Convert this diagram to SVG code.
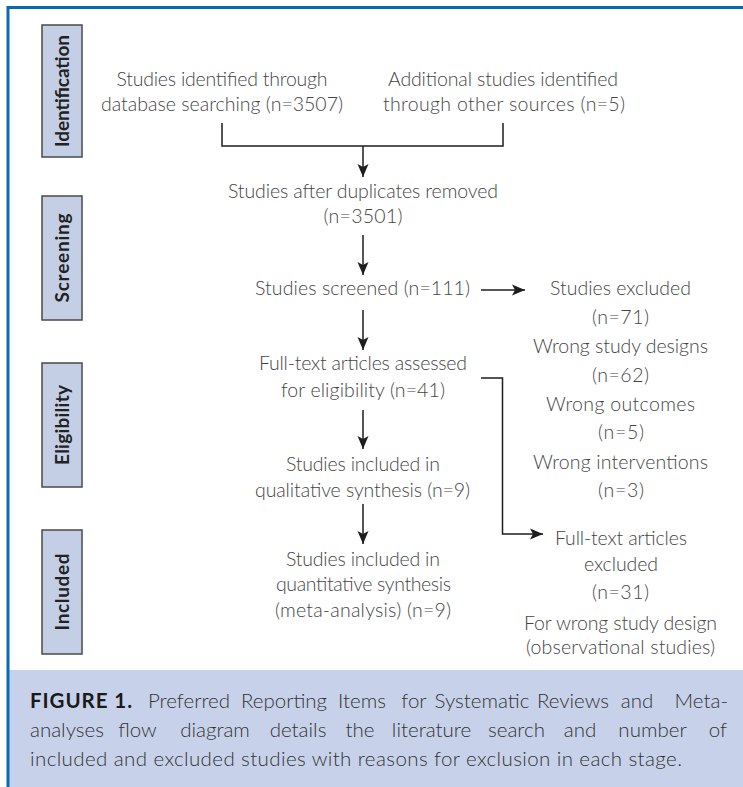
<svg xmlns="http://www.w3.org/2000/svg" width="743" height="787" viewBox="0 0 743 787">
<style>
.t{font-family:Lato,"Open Sans","Liberation Sans",sans-serif;font-size:19.5px;font-weight:300;fill:#454545;text-anchor:middle}
.ph{fill:#c4cfe6;stroke:#4a4a4a;stroke-width:1.5}
.pl{font-family:Lato,"Open Sans","Liberation Sans",sans-serif;font-size:19px;font-weight:bold;fill:#222;text-anchor:middle}
.c{fill:none;stroke:#1e1e1e;stroke-width:1.5}
.cap{font-family:Lato,"Open Sans","Liberation Sans",sans-serif;font-size:20.5px;font-weight:300;fill:#333}
.fig{font-family:Lato,"Open Sans","Liberation Sans",sans-serif;font-size:20.5px;font-weight:bold;fill:#1a1a1a}
.m{text-anchor:middle}
.e{text-anchor:end}
</style>
<defs>
<marker id="ah" markerUnits="userSpaceOnUse" markerWidth="14" markerHeight="12" viewBox="0 0 14 12" refX="13" refY="6" orient="auto">
<path d="M0,0.5 L13,6 L0,11.5 L3,6 z" fill="#1e1e1e"/>
</marker>
</defs>
<rect x="0" y="0" width="743" height="787" fill="#ffffff"/>
<rect x="9" y="670" width="734" height="117" fill="#c7d2ea"/>
<path d="M8,787 V7.5 H743" fill="none" stroke="#0b68b3" stroke-width="3"/>

<g id="phase-identification">
<rect class="ph" x="42" y="25" width="40" height="132"/>
<text class="pl" transform="translate(69,91) rotate(-90)" textLength="112">Identification</text>
</g>
<g id="phase-screening">
<rect class="ph" x="42" y="196" width="40" height="124"/>
<text class="pl" transform="translate(69,258) rotate(-90)" textLength="89">Screening</text>
</g>
<g id="phase-eligibility">
<rect class="ph" x="42" y="363" width="40" height="124"/>
<text class="pl" transform="translate(69,425) rotate(-90)" textLength="80">Eligibility</text>
</g>
<g id="phase-included">
<rect class="ph" x="42" y="530" width="40" height="124"/>
<text class="pl" transform="translate(69,592) rotate(-90)" textLength="77">Included</text>
</g>

<g id="db-search">
<text class="t" x="222" y="86" textLength="211">Studies identified through</text>
<text class="t" x="222" y="111" textLength="242">database searching (n=3507)</text>
</g>
<g id="other-sources">
<text class="t" x="503" y="86" textLength="230">Additional studies identified</text>
<text class="t" x="504" y="111" textLength="242">through other sources (n=5)</text>
</g>
<g id="duplicates-removed">
<text class="t" x="363" y="198" textLength="270">Studies after duplicates removed</text>
<text class="t" x="363" y="223" textLength="79">(n=3501)</text>
</g>
<g id="screened">
<text class="t" x="362.5" y="295" textLength="215">Studies screened (n=111)</text>
</g>
<g id="screen-excluded">
<text class="t" x="620.5" y="295" textLength="141">Studies excluded</text>
<text class="t" x="620.5" y="324" textLength="57">(n=71)</text>
<text class="t" x="620.5" y="353" textLength="175">Wrong study designs</text>
<text class="t" x="620.5" y="382" textLength="57">(n=62)</text>
<text class="t" x="620.5" y="411" textLength="149">Wrong outcomes</text>
<text class="t" x="621" y="439" textLength="46">(n=5)</text>
<text class="t" x="620.5" y="469" textLength="175">Wrong interventions</text>
<text class="t" x="621" y="497" textLength="46">(n=3)</text>
</g>
<g id="fulltext-assessed">
<text class="t" x="363" y="370" textLength="208">Full-text articles assessed</text>
<text class="t" x="363" y="397" textLength="164">for eligibility (n=41)</text>
</g>
<g id="qualitative">
<text class="t" x="363" y="471" textLength="154">Studies included in</text>
<text class="t" x="362.5" y="497" textLength="215">qualitative synthesis (n=9)</text>
</g>
<g id="quantitative">
<text class="t" x="363" y="566" textLength="154">Studies included in</text>
<text class="t" x="363.5" y="591" textLength="175">quantitative synthesis</text>
<text class="t" x="363" y="617" textLength="176">(meta-analysis) (n=9)</text>
</g>
<g id="fulltext-excluded">
<text class="t" x="621" y="545" textLength="132">Full-text articles</text>
<text class="t" x="621" y="571" textLength="74">excluded</text>
<text class="t" x="620.5" y="599" textLength="57">(n=31)</text>
<text class="t" x="620.5" y="630" textLength="193">For wrong study design</text>
<text class="t" x="620.5" y="654" textLength="189">(observational studies)</text>
</g>

<g id="connectors">
<path class="c" d="M222,123 V146 H503 V123"/>
<path class="c" d="M363,146 V177" marker-end="url(#ah)"/>
<path class="c" d="M363,235 V275" marker-end="url(#ah)"/>
<path class="c" d="M481,290 H525" marker-end="url(#ah)"/>
<path class="c" d="M363,310 V350" marker-end="url(#ah)"/>
<path class="c" d="M363,410 V449" marker-end="url(#ah)"/>
<path class="c" d="M363,504 V544" marker-end="url(#ah)"/>
<path class="c" d="M481,378 H502.5 V534 H543" marker-end="url(#ah)"/>
</g>

<g id="caption">
<text class="fig" x="30" y="708" textLength="102">FIGURE 1.</text>
<text class="cap m" x="189" y="708">Preferred</text>
<text class="cap m" x="284" y="708">Reporting</text>
<text class="cap m" x="362" y="708">Items</text>
<text class="cap m" x="414" y="708">for</text>
<text class="cap m" x="482" y="708">Systematic</text>
<text class="cap m" x="573" y="708">Reviews</text>
<text class="cap m" x="637" y="708">and</text>
<text class="cap e" x="728" y="708">Meta-</text>
<text class="cap" x="30" y="737">analyses</text>
<text class="cap m" x="137.5" y="737">flow</text>
<text class="cap m" x="215" y="737">diagram</text>
<text class="cap m" x="298" y="737">details</text>
<text class="cap m" x="360" y="737">the</text>
<text class="cap m" x="431.5" y="737">literature</text>
<text class="cap m" x="516.5" y="737">search</text>
<text class="cap m" x="580" y="737">and</text>
<text class="cap m" x="652.5" y="737">number</text>
<text class="cap e" x="727" y="737">of</text>
<text class="cap" x="30" y="766" textLength="652">included and excluded studies with reasons for exclusion in each stage.</text>
</g>
</svg>
